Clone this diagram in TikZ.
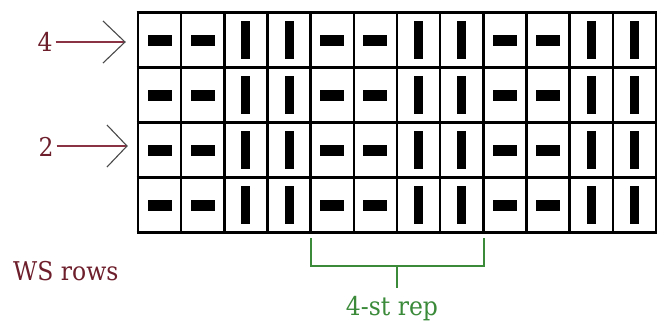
\documentclass[tikz,border=0pt]{standalone}
\usepackage{fontspec}
\usepackage{graphicx}
\setmainfont{DejaVu Serif}
\definecolor{lbl}{HTML}{6E1F2C}
\definecolor{shaft}{HTML}{8A3344}
\definecolor{headc}{HTML}{4A4A4A}
\definecolor{grn}{HTML}{3A8A3A}
\newcommand{\tall}[1]{\scalebox{1}[1.1]{#1}}
\begin{document}
\begin{tikzpicture}[x=1pt,y=-1pt,
  gridline/.style={line width=2.6pt,black},
  hbar/.style={fill=black,minimum width=24pt,minimum height=11pt,inner sep=0pt,draw=none},
  vbar/.style={fill=black,minimum width=9pt,minimum height=38pt,inner sep=0pt,draw=none},
  lbltext/.style={text=lbl,inner sep=0pt,font=\fontsize{23.5}{28}\selectfont},
  grntext/.style={text=grn,inner sep=0pt,font=\fontsize{23.5}{28}\selectfont},
  shaftline/.style={shaft,line width=1.2pt},
  headline/.style={headc,line width=1.1pt},
  bracket/.style={grn,line width=1.3pt}]
\useasboundingbox (0,0) rectangle (657,322);
\fill[white] (0,0) rectangle (657,322);
% bars
\foreach \r/\yy in {1/40,2/95,3/150,4/205}{
  \foreach \c in {0,...,11}{
    \pgfmathsetmacro{\xx}{138+43.17*(\c+0.5)}
    \pgfmathtruncatemacro{\m}{mod(\c,4)}
    \ifnum\m<2
      \node[hbar] (b\r-\c) at (\xx,\yy) {};
    \else
      \node[vbar] (b\r-\c) at (\xx,\yy) {};
    \fi
  }
}
% grid
\foreach \c in {0,...,12}{
  \pgfmathsetmacro{\xx}{138+43.17*\c}
  \draw[gridline] (\xx,12.5) -- (\xx,232.5);
}
\foreach \yy in {12.5,67.5,122.5,177.5,232.5}{
  \draw[gridline] (136.7,\yy) -- (656.9,\yy);
}
% row labels with arrows
\node[lbltext] (r4) at (45,41.5) {\tall{4}};
\coordinate (t4) at (125,42);
\draw[shaftline] (r4.east) ++(3,0.5) -- (t4);
\draw[headline] (103,21) -- (t4) -- (103,63);
\node[lbltext] (r2) at (46,147) {\tall{2}};
\coordinate (t2) at (127,146);
\draw[shaftline] (r2.east) ++(3,-1) -- (t2);
\draw[headline] (107,125) -- (t2) -- (107,167);
% WS rows
\node[lbltext,anchor=base west] (ws) at (13,280) {\tall{WS rows}};
% bracket
\coordinate (bl) at (311,238);
\coordinate (br) at (484,238);
\coordinate (blc) at (311,266);
\coordinate (brc) at (484,266);
\coordinate (bm) at (397,266);
\node[grntext,anchor=base] (rep) at (392,315) {\tall{4-st rep}};
\draw[bracket] (bl) -- (blc) -- (brc) -- (br);
\draw[bracket] (bm) -- (397,288);
\end{tikzpicture}
\end{document}
